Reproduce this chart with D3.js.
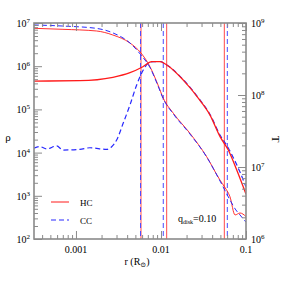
<!DOCTYPE html>
<html><head><meta charset="utf-8">
<script src="https://cdn.jsdelivr.net/npm/d3@7"></script>
<style>body{margin:0;background:#fff}svg{display:block}text{font-family:"Liberation Serif","DejaVu Serif",serif;fill:#000}</style>
</head><body><svg id="c" width="281" height="281"></svg>
<script>
// ---- data ----
const hcRhoR = [3.2e-4,7.03e-4,1.75e-3,2.72e-3,4.32e-3,5.82e-3,7.43e-3,9.23e-3,1.065e-2,1.40e-2,2.19e-2,3.45e-2,4.95e-2,5.6e-2,6.48e-2,7.43e-2,8.5e-2,0.1];
const hcRho  = [7.54e6,7.14e6,6.53e6,5.27e6,3.44e6,2.02e6,9.7e5,3.67e5,1.81e5,8.1e4,2.8e4,8.0e3,2.3e3,1.6e3,950,360,400,330];
const ccRhoR = [3.2e-4,7.03e-4,1.75e-3,2.72e-3,4.32e-3,5.82e-3,7.43e-3,9.23e-3,1.065e-2,1.40e-2,2.19e-2,3.45e-2,4.95e-2,6.48e-2,7.6e-2,8.5e-2,0.1];
const ccRho  = [9.0e6,8.5e6,7.5e6,5.9e6,3.44e6,1.82e6,9.3e5,3.5e5,1.75e5,7.8e4,2.7e4,7.9e3,2.2e3,800,470,360,245];
const hcTR = [3.2e-4,1.11e-3,2.72e-3,4.32e-3,6.13e-3,7.77e-3,9.73e-3,1.17e-2,1.83e-2,2.86e-2,3.76e-2,4.95e-2,6.19e-2,7.78e-2,0.1];
const hcT  = [1.56e8,1.58e8,1.76e8,2.04e8,2.47e8,2.90e8,2.90e8,2.61e8,1.61e8,8.5e7,5.3e7,2.64e7,1.72e7,9.1e6,4.2e6];
const ccTR = [3.2e-4,3.77e-4,4.52e-4,5.93e-4,7.03e-4,1.11e-3,1.46e-3,2.30e-3,2.63e-3,3.01e-3,3.60e-3,4.32e-3,5.18e-3,6.19e-3,7.10e-3,8.11e-3,9.73e-3,1.17e-2,1.83e-2,2.86e-2,3.76e-2,4.95e-2,6.19e-2,7.0e-2,8.5e-2,0.1];
const ccT  = [1.82e7,1.92e7,1.78e7,1.96e7,1.72e7,1.76e7,1.85e7,1.76e7,1.91e7,2.37e7,4.08e7,7.27e7,1.38e8,2.22e8,2.78e8,2.9e8,2.92e8,2.61e8,1.63e8,8.6e7,5.4e7,2.78e7,1.84e7,1.39e7,8.5e6,5.3e6];
const hcVert = [5.82e-3,1.167e-2,5.56e-2];
const ccVert = [5.75e-3,1.064e-2,6.03e-2];
const xTicks = [0.001,0.01,0.1];
const xTickLabels = ["0.001","0.01","0.1"];
const rhoTickExp = [2,3,4,5,6,7];
const tTickExp = [6,7,8,9];
const legendNames = ["HC","CC"];
const annot = ["q","disk","=0.10"];

// ---- layout ----
const L=34,R=246,T=23,B=239;
const svg=d3.select("#c");
const x=d3.scaleLog().domain([0.000321,0.1]).range([L,R]);
const yL=d3.scaleLog().domain([1e2,1e7]).range([B,T]);
const yR=d3.scaleLog().domain([1e6,1e9]).range([B,T]);
const red="#ff1a1a", blue="#2828ff", axisC="#8a8a8a";

svg.append("defs").append("clipPath").attr("id","clip").append("rect").attr("x",L).attr("y",T).attr("width",R-L).attr("height",B-T);
const plot=svg.append("g").attr("clip-path","url(#clip)");

function minors(lo,hi){const a=[];for(let e=Math.floor(Math.log10(lo));e<=Math.ceil(Math.log10(hi));e++)for(let m=2;m<=9;m++){const v=m*Math.pow(10,e);if(v>=lo&&v<=hi)a.push(v);}return a;}
function majors(lo,hi){const a=[];for(let e=Math.ceil(Math.log10(lo)-1e-9);Math.pow(10,e)<=hi*1.0001;e++)a.push(Math.pow(10,e));return a;}

function styleAxis(g){g.select(".domain").remove();g.selectAll("line").attr("stroke",axisC).attr("stroke-width",1);g.selectAll("text").remove();}
// x axes (bottom/top) ticks inside
svg.append("g").attr("transform",`translate(0,${B})`).call(d3.axisBottom(x).tickValues(majors(0.000321,0.1)).tickSize(-8)).call(styleAxis);
svg.append("g").attr("transform",`translate(0,${B})`).call(d3.axisBottom(x).tickValues(minors(0.000321,0.1)).tickSize(-4)).call(styleAxis);
svg.append("g").attr("transform",`translate(0,${T})`).call(d3.axisTop(x).tickValues(majors(0.000321,0.1)).tickSize(-8)).call(styleAxis);
svg.append("g").attr("transform",`translate(0,${T})`).call(d3.axisTop(x).tickValues(minors(0.000321,0.1)).tickSize(-4)).call(styleAxis);
// left
svg.append("g").attr("transform",`translate(${L},0)`).call(d3.axisLeft(yL).tickValues(majors(1e2,1e7)).tickSize(-8)).call(styleAxis);
svg.append("g").attr("transform",`translate(${L},0)`).call(d3.axisLeft(yL).tickValues(minors(1e2,1e7)).tickSize(-4)).call(styleAxis);
// right
svg.append("g").attr("transform",`translate(${R},0)`).call(d3.axisRight(yR).tickValues(majors(1e6,1e9)).tickSize(-8)).call(styleAxis);
svg.append("g").attr("transform",`translate(${R},0)`).call(d3.axisRight(yR).tickValues(minors(1e6,1e9)).tickSize(-4)).call(styleAxis);

// vertical lines
hcVert.forEach(v=>plot.append("line").attr("x1",x(v)).attr("x2",x(v)).attr("y1",T).attr("y2",B).attr("stroke","#ff4a4a").attr("stroke-width",1));
ccVert.forEach(v=>plot.append("line").attr("x1",x(v)).attr("x2",x(v)).attr("y1",T).attr("y2",B).attr("stroke","#4a4aff").attr("stroke-width",1).attr("stroke-dasharray","5,3"));

function curve(rs,vs,ys,color,w,dash){
  const pts=rs.map((r,i)=>[r,vs[i]]);
  const line=d3.line().x(d=>x(d[0])).y(d=>ys(d[1])).curve(d3.curveMonotoneX);
  const p=plot.append("path").datum(pts).attr("d",line).attr("fill","none").attr("stroke",color).attr("stroke-width",w);
  if(dash)p.attr("stroke-dasharray",dash);
}
curve(hcRhoR,hcRho,yL,red,0.9,null);
curve(ccRhoR,ccRho,yL,blue,1,"5,3");
curve(ccTR,ccT,yR,blue,1.2,"5,3");
curve(hcTR,hcT,yR,red,1.3,null);

// frame
svg.append("rect").attr("x",L).attr("y",T).attr("width",R-L).attr("height",B-T).attr("fill","none").attr("stroke",axisC).attr("stroke-width",1.6);

// tick labels
xTicks.forEach((v,i)=>svg.append("text").attr("x",x(v)).attr("y",B+14).attr("text-anchor","middle").attr("font-size",10).text(xTickLabels[i]));
rhoTickExp.forEach(e=>{const t=svg.append("text").attr("x",L-4).attr("y",yL(Math.pow(10,e))+4).attr("text-anchor","end").attr("font-size",10);
  t.append("tspan").text("10");t.append("tspan").attr("font-size",7).attr("dy",-4).text(e);});
tTickExp.forEach(e=>{const t=svg.append("text").attr("x",R+5).attr("y",yR(Math.pow(10,e))+4).attr("text-anchor","start").attr("font-size",10);
  t.append("tspan").text("10");t.append("tspan").attr("font-size",7).attr("dy",-4).text(e);});

// axis titles
svg.append("text").attr("x",8).attr("y",141).attr("text-anchor","middle").attr("font-size",11).text("ρ");
svg.append("text").attr("transform","translate(272,139) rotate(90)").attr("text-anchor","middle").attr("font-size",11).text("T");
const xl=svg.append("text").attr("x",137).attr("y",265).attr("text-anchor","middle").attr("font-size",10);
xl.append("tspan").text("r (R");xl.append("tspan").attr("font-size",7).attr("dy",2).text("⊙");xl.append("tspan").attr("dy",-2).text(")");

// legend
const lg=[{n:legendNames[0],c:red,d:null,y:202},{n:legendNames[1],c:blue,d:"5,3",y:220}];
lg.forEach(o=>{const l=svg.append("line").attr("x1",51).attr("x2",69).attr("y1",o.y).attr("y2",o.y).attr("stroke",o.c).attr("stroke-width",1);
  if(o.d)l.attr("stroke-dasharray",o.d);
  svg.append("text").attr("x",80).attr("y",o.y+3.5).attr("font-size",9).text(o.n);});

// annotation
const an=svg.append("text").attr("x",178).attr("y",222).attr("font-size",10);
an.append("tspan").text(annot[0]);an.append("tspan").attr("font-size",6).attr("dy",2).text(annot[1]);an.append("tspan").attr("dy",-2).text(annot[2]);
</script></body></html>
